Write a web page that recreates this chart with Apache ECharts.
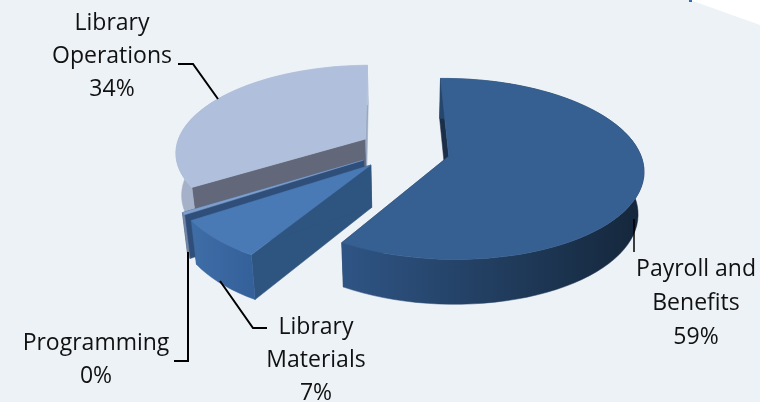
<!DOCTYPE html>
<html><head><meta charset="utf-8">
<style>html,body{margin:0;padding:0;background:#edf2f7}#c{width:760px;height:402px}</style>
<script src="https://cdn.jsdelivr.net/npm/echarts@6/dist/echarts.min.js"></script>
</head><body><div id="c"></div>
<script>
const categories = ['Payroll and\nBenefits', 'Library\nMaterials', 'Programming', 'Library\nOperations'];
const values = [58.9, 7, 0.4, 33.7];

const G = { cx: 405, cy: 151, R: 190.5, S: 87, k: 0.14, h: 42, shrink: 0.975, ex: 0.23, ey: 0.27, startDeg: -1 };
const L = (a, b) => new echarts.graphic.LinearGradient(0, 0, 1, 0, [{offset:0,color:a},{offset:1,color:b}]);
const looks = [
  { nudge:[1,-1], top:'#376092', startWall:'#1b2f48', endWall:'#1b2f48', arc:L('#2f5585','#14263a') },
  { nudge:[-3,-3.5], top:'#4a7ab5', startWall:'#2e5480', endWall:'#2e5480', arc:L('#3f6da6','#34609a') },
  { nudge:[-4,-4], top:'#7f9fcc', startWall:'#2f4e7a', endWall:'#2f4e7a', arc:'#7486a3' },
  { nudge:[-1.5,-1], top:'#b0c0dc', startWall:'#62677a', endWall:'#9aa8c0', arc:L('#a4b0c8','#b8c4da') }
];
const labelSpots = [
  { x:696, y:303, lh:34 }, { x:316, y:360, lh:33 }, { x:96, y:360, lh:33 }, { x:112, y:56, lh:33 }
];
const leaders = [
  [[634,219],[634,252]],
  [[267,328],[253,328],[220,281]],
  [[174,361],[188,361],[188,252]],
  [[178,64],[193,64],[218,99]]
];

const total = values.reduce((a,b)=>a+b,0);
const spans = []; let acc = G.startDeg;
values.forEach(v => { const d = v/total*360; spans.push([acc, acc+d]); acc += d; });
const rad = d => d*Math.PI/180;

function proj(u, v, low, nudge){
  const w = 1 + G.k*v;
  let X = G.cx + G.R*u/w, Y = G.cy - G.S*v/w;
  if (low){ X = G.cx + (X-G.cx)*G.shrink; Y += G.h/Math.pow(w,0.4); }
  return [X+nudge[0],Y+nudge[1]];
}
function renderItem(params, api){
  const i = api.value(0);
  const [a0,a1] = spans[i];
  const mid = rad((a0+a1)/2);
  const ou = G.ex*Math.sin(mid), ov = G.ey*Math.cos(mid);
  const n = Math.max(2, Math.ceil((a1-a0)/3));
  const arcT = [], arcB = [];
  const look = looks[i];
  for (let j=0;j<=n;j++){
    const t = rad(a0+(a1-a0)*j/n);
    const u = ou+Math.sin(t), v = ov+Math.cos(t);
    arcT.push(proj(u,v,false,look.nudge)); arcB.push(proj(u,v,true,look.nudge));
  }
  const apT = proj(ou,ov,false,look.nudge), apB = proj(ou,ov,true,look.nudge);
  const poly = (points, fill) => ({ type:'polygon', shape:{points}, style:{fill, stroke:fill, lineWidth:0.5}, silent:true });
  const children = [
    poly([apT, arcT[0], arcB[0], apB], look.startWall),
    poly([apT, arcT[n], arcB[n], apB], look.endWall),
    poly(arcT.concat(arcB.slice().reverse()), look.arc),
    poly([apT].concat(arcT), look.top)
  ];
  children.forEach(c => { c.z2 = 10*(values.length-i); });
  return { type:'group', children };
}
const chart = echarts.init(document.getElementById('c'), null, {renderer:'canvas'});
const font = '"Open Sans", sans-serif';
chart.setOption({
  backgroundColor:'#edf2f7',
  animation:false,
  graphic:[
    { type:'polygon', shape:{points:[[690,0],[760,25],[760,0]]}, style:{fill:'#ffffff'}, silent:true },
    { type:'rect', shape:{x:689,y:0,width:3,height:2}, style:{fill:'#2f6fb5'}, silent:true },
    ...leaders.map((pts,i)=>({ type:'polyline', z:5, shape:{points:pts}, style:{stroke:'#000',lineWidth:i===0?1.5:2,fill:null}, silent:true })),
    ...categories.map((c,i)=>({
      type:'text', z:6, x:labelSpots[i].x, y:labelSpots[i].y, silent:true,
      style:{ text:c+'\n'+Math.round(values[i]/total*100)+'%', font:'23px '+font, fill:'#111', align:'center', verticalAlign:'middle', lineHeight:labelSpots[i].lh }
    }))
  ],
  series:[{
    type:'custom', coordinateSystem:'none', silent:true, renderItem,
    data: categories.map((c,i)=>({ name:c, value:[i, values[i]] }))
  }]
});
</script></body></html>
